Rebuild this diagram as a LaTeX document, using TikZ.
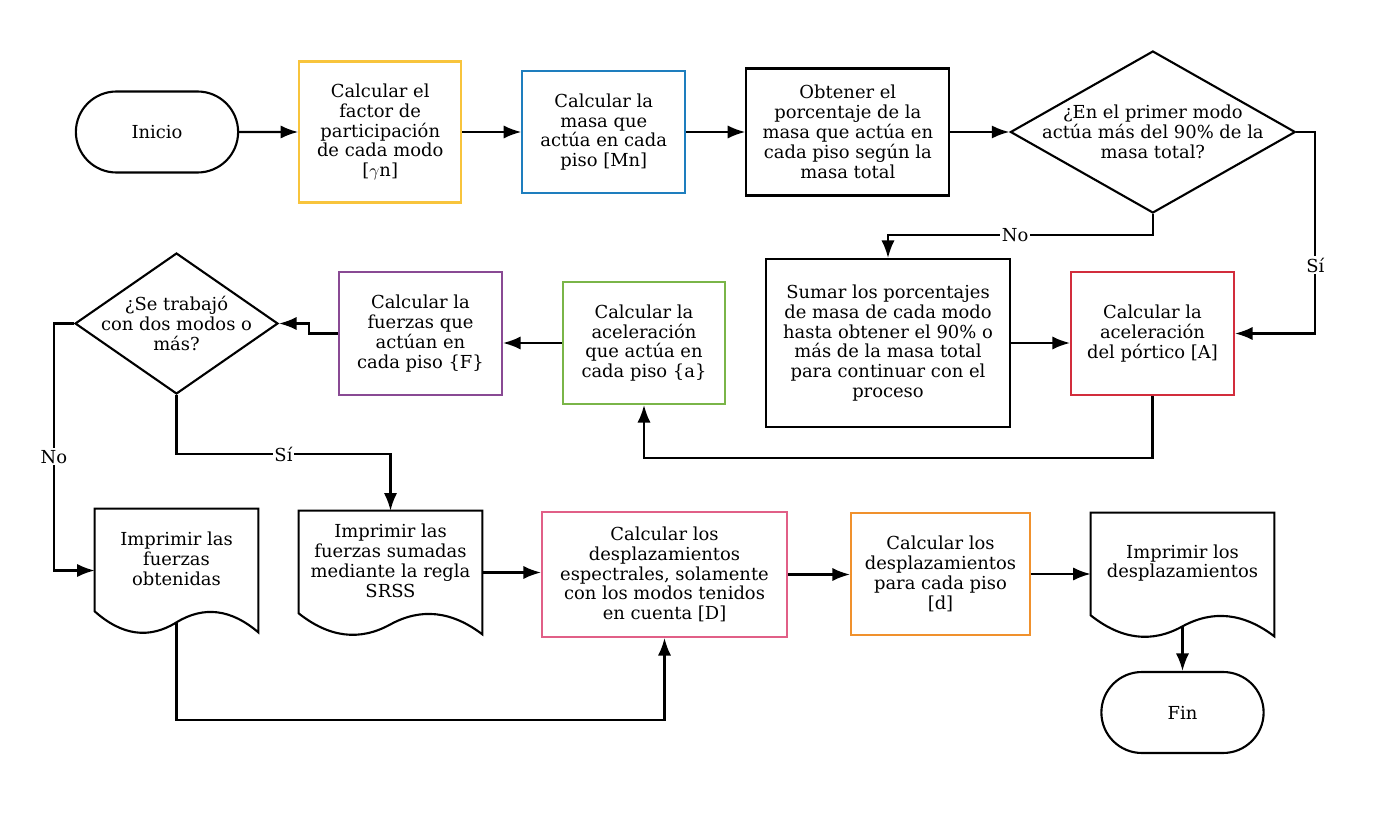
\documentclass[tikz,border=0pt]{standalone}
\usepackage{fontspec}
\setmainfont{DejaVu Serif}
\usetikzlibrary{shapes, arrows.meta, positioning, calc}

\definecolor{cyellow}{RGB}{248,196,60}
\definecolor{cblue}{RGB}{30,126,190}
\definecolor{cpurple}{RGB}{137,74,148}
\definecolor{cgreen}{RGB}{122,181,72}
\definecolor{cred}{RGB}{210,45,60}
\definecolor{cpink}{RGB}{225,95,135}
\definecolor{corange}{RGB}{240,145,45}

% wavy outline of a print node, plus its connection points
\newcommand{\docoutline}[1]{%
  \draw[line width=1.2pt] ($(#1.south east)+(0,23)$) -- (#1.north east) -- (#1.north west) -- ($(#1.south west)+(0,2)$)
    .. controls ($(#1.south west)!.167!(#1.south east)+(0,26.3)$) and ($(#1.south west)!.333!(#1.south east)+(0,30)$) .. ($(#1.south)+(0,13)$)
    .. controls ($(#1.south west)!.667!(#1.south east)+(0,-3.7)$) and ($(#1.south west)!.833!(#1.south east)+(0,-0.3)$) .. ($(#1.south east)+(0,23)$) -- cycle;
  \coordinate (#1-in) at ($(#1.west)+(0,11.5)$);
  \coordinate (#1-out) at ($(#1.east)+(0,11.5)$);
  \coordinate (#1-bot) at ($(#1.south)+(0,13)$);
}

\begin{document}
\begin{tikzpicture}[x=0.02cm, y=-0.02cm,
        every node/.style={font=\fontsize{10.2}{11.3}\selectfont},
        box/.style={draw, rectangle, line width=1.2pt, align=center, inner sep=2pt},
        term/.style={draw, rounded rectangle, line width=1.2pt, minimum width=3.48cm, minimum height=1.62cm},
        decision/.style={draw, diamond, line width=1.2pt, inner sep=0pt},
        docbox/.style={rectangle, align=center, minimum height=2cm},
        arrow/.style={-{Latex[length=10pt, width=7.5pt]}, line width=1.2pt},
        lbl/.style={fill=white, inner sep=1pt}
    ]
        \useasboundingbox (0,0) rectangle (1383,814);

        % First row
        \node[term] (ini) at (157,132) {Inicio};
        \node[box, draw=cyellow, minimum width=3.24cm, minimum height=2.82cm, right=1.18cm of ini] (gam) {Calcular el\\factor de\\participación\\de cada modo\\{}[$\gamma$n]};
        \node[box, draw=cblue, minimum width=3.26cm, minimum height=2.44cm, right=1.18cm of gam] (mas) {Calcular la\\masa que\\actúa en cada\\piso [Mn]};
        \node[box, minimum width=4.06cm, minimum height=2.54cm, right=1.18cm of mas] (obt) {Obtener el\\porcentaje de la\\masa que actúa en\\cada piso según la\\masa total};
        \node[decision, minimum width=5.7cm, minimum height=3.24cm, right=1.18cm of obt,
              label={[align=center]center:¿En el primer modo\\actúa más del 90\% de la\\masa total?}] (dec1) {};

        % Second row
        \node[box, draw=cred, minimum width=3.26cm, minimum height=2.46cm] (acc) at (1152.5,333.5) {Calcular la\\aceleración\\del pórtico [A]};
        \node[box, minimum width=4.88cm, minimum height=3.36cm] (sum) at (888,343) {Sumar los porcentajes\\de masa de cada modo\\hasta obtener el 90\% o\\más de la masa total\\para continuar con el\\proceso};
        \node[box, draw=cgreen, minimum width=3.24cm, minimum height=2.44cm] (acp) at (644,343) {Calcular la\\aceleración\\que actúa en\\cada piso \{a\}};
        \node[box, draw=cpurple, minimum width=3.26cm, minimum height=2.46cm] (fue) at (420.5,333.5) {Calcular la\\fuerzas que\\actúan en\\cada piso \{F\}};
        \node[decision, minimum width=4.06cm, minimum height=2.82cm,
              label={[align=center]center:¿Se trabajó\\con dos modos o\\más?}] (dec2) at (176.5,323.5) {};

        % Third row
        \node[docbox, minimum width=3.26cm] (doc1) at (176.5,559) {Imprimir las\\fuerzas\\obtenidas};
        \node[docbox, minimum width=3.66cm] (doc2) at (390.5,561) {Imprimir las\\fuerzas sumadas\\mediante la regla\\SRSS};
        \node[box, draw=cpink, minimum width=4.9cm, minimum height=2.5cm] (pnk) at (664.5,574.5) {Calcular los\\desplazamientos\\espectrales, solamente\\con los modos tenidos\\en cuenta [D]};
        \node[box, draw=corange, minimum width=3.58cm, minimum height=2.44cm] (org) at (940.5,574) {Calcular los\\desplazamientos\\para cada piso\\{}[d]};
        \node[docbox, minimum width=3.66cm] (doc3) at (1182.5,563) {Imprimir los\\desplazamientos};
        \node[term] (fin) at (1182.5,712.5) {Fin};

        \docoutline{doc1}
        \docoutline{doc2}
        \docoutline{doc3}

        % Arrows
        \draw[arrow] (ini) -- (gam);
        \draw[arrow] (gam) -- (mas);
        \draw[arrow] (mas) -- (obt);
        \draw[arrow] (obt) -- (dec1);
        \draw[arrow] (dec1.east) -- ++(19,0) |- node[lbl, pos=0.33] {Sí} (acc.east);
        \draw[arrow] (dec1.south) -- ++(0,21) -| node[lbl, pos=0.26] {No} (sum.north);
        \draw[arrow] (sum.east) -- (sum.east -| acc.west);
        \draw[arrow] (acc.south) -- ++(0,62) -| (acp.south);
        \draw[arrow] (acp.west) -- (acp.west -| fue.east);
        \draw[arrow] (fue.west) -- ++(-29,0) |- (dec2.east);
        \draw[arrow] (dec2.west) -- ++(-20,0) |- node[lbl, pos=0.27] {No} (doc1-in);
        \draw[arrow] (dec2.south) -- ++(0,59) -| node[lbl, pos=0.25] {Sí} (doc2.north);
        \draw[arrow] (doc2-out) -- (doc2-out -| pnk.west);
        \draw[arrow] (pnk.east) -- (pnk.east -| org.west);
        \draw[arrow] (org.east) -- (org.east -| doc3-in);
        \draw[arrow] (doc3-bot) -- (fin.north);
        \draw[arrow] (doc1-bot) -- ++(0,98) -| (pnk.south);

    \end{tikzpicture}
\end{document}
